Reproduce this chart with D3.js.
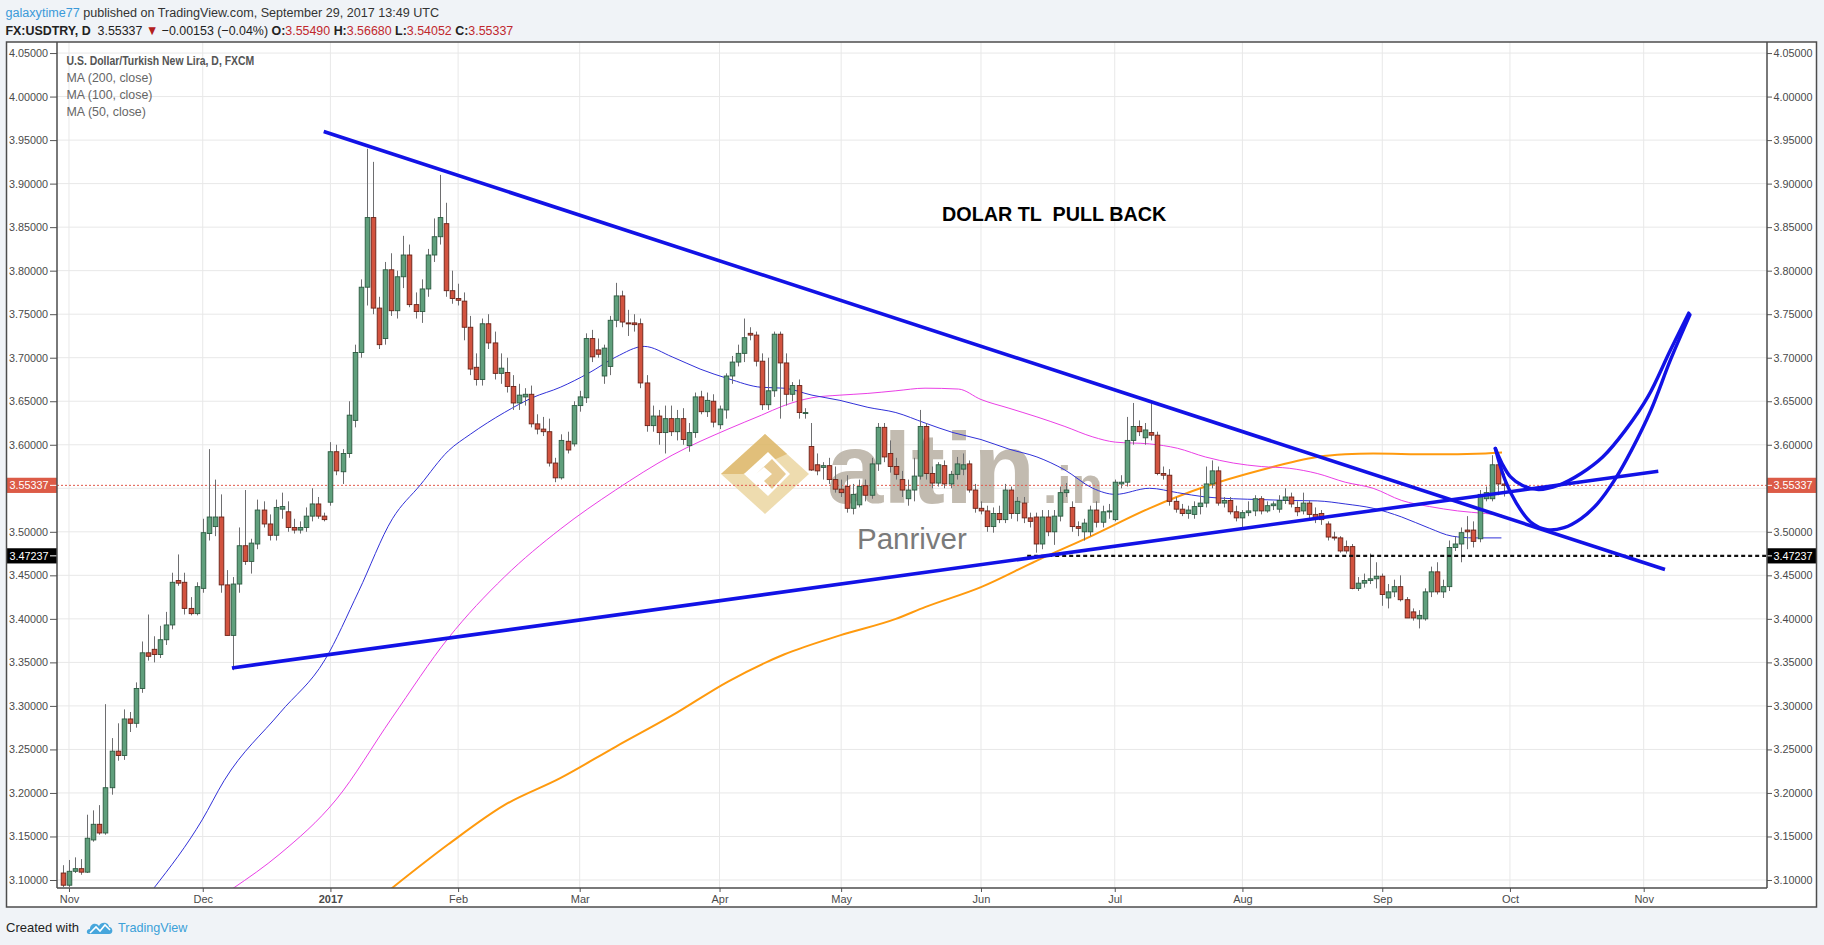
<!DOCTYPE html>
<html><head><meta charset="utf-8">
<script src="https://cdn.jsdelivr.net/npm/d3@7/dist/d3.min.js"></script>
<style>
body{margin:0;background:#f0f3f7;}
svg{display:block;}
text{font-family:"Liberation Sans",Arial,sans-serif;}
</style>
</head><body>
<svg id="c" width="1824" height="945"></svg>
<script>
// ---------------- DATA ----------------
const firstBar = -1; // first candle = Oct 31 2016
const candles = [ // [open, high, low, close]
[3.108,3.117,3.092,3.094],[3.094,3.123,3.092,3.110],[3.110,3.126,3.108,3.113],[3.113,3.124,3.106,3.109],
[3.109,3.175,3.108,3.148],[3.146,3.180,3.144,3.164],[3.164,3.186,3.152,3.154],[3.154,3.302,3.152,3.206],
[3.206,3.263,3.198,3.248],[3.248,3.280,3.237,3.243],[3.243,3.296,3.238,3.285],[3.285,3.293,3.270,3.280],
[3.280,3.327,3.275,3.320],[3.320,3.374,3.315,3.361],[3.361,3.405,3.352,3.357],[3.365,3.380,3.350,3.359],
[3.359,3.392,3.355,3.376],[3.376,3.408,3.370,3.393],[3.393,3.453,3.388,3.442],[3.444,3.474,3.438,3.441],
[3.442,3.453,3.405,3.412],[3.412,3.425,3.404,3.406],[3.406,3.442,3.404,3.437],[3.435,3.515,3.430,3.499],
[3.498,3.595,3.490,3.517],[3.506,3.560,3.495,3.517],[3.517,3.543,3.430,3.439],[3.439,3.456,3.381,3.381],
[3.381,3.448,3.341,3.440],[3.440,3.505,3.430,3.484],[3.484,3.548,3.462,3.466],[3.466,3.492,3.452,3.487],
[3.486,3.537,3.480,3.525],[3.525,3.535,3.505,3.509],[3.509,3.520,3.490,3.496],[3.496,3.537,3.490,3.528],
[3.526,3.545,3.515,3.529],[3.523,3.535,3.500,3.505],[3.505,3.515,3.498,3.502],[3.502,3.512,3.498,3.505],
[3.505,3.528,3.500,3.518],[3.518,3.550,3.512,3.532],[3.532,3.540,3.515,3.518],[3.518,3.522,3.512,3.514],
[3.534,3.603,3.530,3.592],[3.592,3.600,3.565,3.570],[3.569,3.595,3.555,3.590],[3.590,3.650,3.585,3.634],
[3.628,3.715,3.620,3.706],[3.706,3.790,3.700,3.781],[3.781,3.940,3.760,3.861],[3.861,3.925,3.750,3.757],
[3.757,3.770,3.710,3.715],[3.722,3.810,3.715,3.801],[3.801,3.820,3.748,3.754],[3.754,3.800,3.745,3.793],
[3.793,3.840,3.780,3.818],[3.818,3.830,3.758,3.761],[3.761,3.775,3.745,3.753],[3.753,3.790,3.740,3.779],
[3.779,3.825,3.770,3.818],[3.818,3.860,3.810,3.839],[3.839,3.910,3.830,3.861],[3.854,3.878,3.770,3.777],
[3.777,3.800,3.762,3.768],[3.768,3.785,3.760,3.766],[3.765,3.775,3.720,3.735],[3.735,3.748,3.680,3.687],
[3.689,3.705,3.668,3.675],[3.675,3.745,3.668,3.739],[3.739,3.750,3.710,3.717],[3.717,3.730,3.675,3.682],
[3.682,3.705,3.670,3.688],[3.683,3.700,3.660,3.667],[3.667,3.680,3.640,3.648],[3.648,3.670,3.640,3.657],
[3.655,3.665,3.645,3.658],[3.658,3.668,3.620,3.624],[3.624,3.635,3.612,3.618],[3.618,3.632,3.610,3.615],
[3.615,3.630,3.575,3.579],[3.579,3.585,3.557,3.562],[3.562,3.612,3.560,3.605],[3.604,3.615,3.590,3.594],
[3.601,3.650,3.598,3.645],[3.645,3.662,3.638,3.655],[3.654,3.728,3.648,3.722],[3.722,3.732,3.695,3.701],
[3.709,3.722,3.700,3.704],[3.679,3.715,3.670,3.711],[3.690,3.748,3.680,3.743],[3.743,3.786,3.735,3.771],
[3.771,3.777,3.735,3.741],[3.740,3.755,3.725,3.739],[3.740,3.750,3.730,3.738],[3.739,3.745,3.665,3.671],
[3.671,3.680,3.615,3.622],[3.622,3.645,3.615,3.633],[3.633,3.640,3.600,3.614],[3.614,3.645,3.590,3.630],
[3.630,3.645,3.610,3.615],[3.615,3.640,3.605,3.630],[3.630,3.642,3.600,3.606],[3.599,3.625,3.592,3.614],
[3.614,3.660,3.608,3.655],[3.655,3.662,3.635,3.638],[3.638,3.660,3.632,3.651],[3.650,3.658,3.620,3.626],
[3.623,3.645,3.618,3.641],[3.640,3.682,3.630,3.679],[3.679,3.702,3.670,3.695],[3.695,3.715,3.690,3.705],
[3.705,3.745,3.695,3.723],[3.728,3.735,3.720,3.726],[3.726,3.730,3.690,3.696],[3.696,3.705,3.640,3.646],
[3.646,3.700,3.640,3.662],[3.662,3.730,3.655,3.727],[3.727,3.730,3.630,3.694],[3.694,3.705,3.645,3.658],
[3.658,3.672,3.650,3.668],[3.668,3.675,3.630,3.637],[3.636,3.642,3.630,3.637],[3.598,3.625,3.570,3.571],
[3.577,3.590,3.565,3.570],[3.574,3.580,3.560,3.576],[3.576,3.585,3.555,3.560],[3.560,3.575,3.545,3.549],
[3.549,3.560,3.540,3.545],[3.552,3.565,3.522,3.527],[3.527,3.555,3.520,3.543],[3.531,3.560,3.528,3.552],
[3.553,3.560,3.535,3.542],[3.542,3.585,3.538,3.578],[3.578,3.625,3.570,3.620],[3.620,3.625,3.580,3.586],
[3.590,3.605,3.568,3.575],[3.575,3.585,3.560,3.566],[3.560,3.570,3.540,3.548],[3.538,3.560,3.530,3.548],
[3.548,3.585,3.535,3.564],[3.564,3.640,3.560,3.621],[3.621,3.625,3.560,3.567],[3.567,3.575,3.550,3.556],
[3.556,3.580,3.552,3.577],[3.576,3.582,3.550,3.555],[3.555,3.570,3.550,3.566],[3.566,3.586,3.560,3.578],
[3.572,3.590,3.565,3.577],[3.578,3.582,3.545,3.548],[3.548,3.555,3.522,3.527],[3.527,3.535,3.520,3.524],
[3.524,3.530,3.500,3.506],[3.506,3.528,3.499,3.521],[3.521,3.530,3.510,3.514],[3.514,3.555,3.510,3.548],
[3.548,3.552,3.515,3.521],[3.521,3.540,3.512,3.535],[3.533,3.540,3.510,3.516],[3.516,3.522,3.505,3.512],
[3.517,3.522,3.476,3.486],[3.486,3.525,3.480,3.517],[3.517,3.525,3.495,3.500],[3.500,3.525,3.485,3.518],
[3.518,3.552,3.512,3.545],[3.545,3.556,3.540,3.548],[3.528,3.535,3.500,3.506],[3.506,3.512,3.495,3.504],
[3.500,3.515,3.490,3.510],[3.500,3.530,3.495,3.525],[3.525,3.535,3.505,3.511],[3.511,3.530,3.505,3.523],
[3.523,3.532,3.515,3.524],[3.514,3.560,3.512,3.557],[3.555,3.565,3.550,3.557],[3.557,3.632,3.552,3.605],
[3.605,3.648,3.600,3.621],[3.621,3.628,3.610,3.615],[3.608,3.625,3.600,3.617],[3.614,3.648,3.605,3.611],
[3.611,3.615,3.565,3.567],[3.567,3.575,3.560,3.565],[3.565,3.572,3.530,3.535],[3.535,3.540,3.522,3.526],
[3.526,3.532,3.518,3.521],[3.521,3.530,3.515,3.525],[3.520,3.535,3.515,3.529],[3.529,3.550,3.520,3.533],
[3.533,3.575,3.528,3.555],[3.555,3.582,3.550,3.570],[3.570,3.575,3.530,3.533],[3.533,3.540,3.528,3.536],
[3.536,3.540,3.520,3.523],[3.523,3.530,3.512,3.516],[3.516,3.525,3.505,3.522],[3.522,3.535,3.518,3.524],
[3.524,3.542,3.518,3.538],[3.538,3.541,3.520,3.524],[3.524,3.535,3.522,3.530],[3.530,3.535,3.525,3.532],
[3.526,3.542,3.522,3.536],[3.536,3.550,3.532,3.540],[3.540,3.545,3.528,3.532],[3.528,3.535,3.518,3.523],
[3.524,3.545,3.520,3.533],[3.533,3.536,3.515,3.520],[3.520,3.528,3.510,3.515],[3.521,3.525,3.508,3.514],
[3.509,3.512,3.490,3.494],[3.494,3.500,3.490,3.493],[3.493,3.495,3.476,3.478],[3.483,3.490,3.475,3.478],
[3.483,3.486,3.434,3.435],[3.435,3.448,3.432,3.441],[3.441,3.452,3.436,3.444],[3.444,3.475,3.440,3.446],
[3.446,3.465,3.435,3.449],[3.449,3.452,3.415,3.428],[3.424,3.440,3.412,3.431],[3.431,3.445,3.425,3.437],
[3.437,3.450,3.420,3.422],[3.422,3.425,3.401,3.401],[3.408,3.412,3.398,3.401],[3.400,3.410,3.389,3.404],
[3.400,3.435,3.398,3.431],[3.431,3.460,3.425,3.454],[3.454,3.465,3.428,3.431],[3.431,3.445,3.424,3.437],
[3.437,3.490,3.432,3.482],[3.482,3.495,3.478,3.486],[3.486,3.505,3.465,3.499],[3.502,3.518,3.480,3.500],
[3.502,3.512,3.482,3.489],[3.492,3.548,3.488,3.543],[3.538,3.552,3.535,3.545],[3.538,3.588,3.535,3.577],
[3.577,3.582,3.542,3.555],[3.5549,3.5668,3.54052,3.55337]
];
// moving averages: [bar, value]
const ma50 = [[14,3.091],[21.9,3.169],[25.5,3.214],[34.7,3.292],[42.1,3.353],[47.6,3.431],[53.2,3.515],[57.8,3.554],[62.4,3.593],[66,3.612],[71.6,3.637],[76.2,3.654],[80.8,3.666],[85.4,3.682],[90,3.701],[94.6,3.713],[99.2,3.701],[103.8,3.687],[108.4,3.676],[113.9,3.666],[117.6,3.665],[122.2,3.657],[126.8,3.651],[131.4,3.643],[136,3.637],[140.8,3.625],[145.4,3.614],[150,3.606],[154.6,3.595],[159.2,3.586],[163.8,3.571],[168.4,3.550],[172.1,3.543],[177.7,3.550],[182.3,3.545],[186.9,3.540],[191.5,3.538],[196.1,3.537],[200.7,3.536],[205.3,3.5355],[209.9,3.532],[214.5,3.527],[219.2,3.517],[223.8,3.504],[227.5,3.495],[231.1,3.493],[235.6,3.493]];
const ma100 = [[26.9,3.090],[34.7,3.130],[43.9,3.192],[53.1,3.286],[62.4,3.378],[71.6,3.448],[80.8,3.503],[89.9,3.548],[99.2,3.588],[108.4,3.618],[113.9,3.634],[117.6,3.645],[122.2,3.654],[126.8,3.657],[131.4,3.659],[136,3.662],[140.8,3.665],[146.3,3.664],[150,3.652],[154.6,3.642],[159.2,3.632],[163.8,3.621],[168.4,3.609],[172.1,3.603],[177.7,3.601],[182.3,3.596],[186.9,3.586],[191.5,3.579],[196.1,3.575],[200.7,3.573],[205.3,3.567],[209.9,3.557],[214.5,3.550],[219.2,3.536],[223.8,3.529],[228.4,3.524],[233,3.521],[235.7,3.519]];
const ma200 = [[53,3.090],[62.4,3.141],[71.6,3.186],[80.8,3.217],[89.9,3.253],[99.2,3.289],[108.4,3.328],[117.6,3.359],[126.8,3.381],[136,3.400],[140.8,3.4135],[150,3.4365],[159.2,3.467],[168.4,3.496],[177.7,3.527],[186.9,3.552],[196.1,3.571],[205.3,3.586],[209.9,3.589],[214.5,3.590],[223.8,3.589],[233,3.590],[235.7,3.591]];
// drawings
const trendDown = [[41.9,3.9598],[262.5,3.4566]];
const trendUp = [[26.8,3.3436],[261.4,3.5696]];
const curveShallow = [[234.6,3.5957],[235.7,3.5785],[237.1,3.5631],[239.0,3.5535],[241.7,3.5485],[245.0,3.5535],[248.7,3.5670],[252.3,3.5862],[256.0,3.6168],[259.7,3.6552],[263.4,3.7089],[266.4,3.7512]];
const curveDeep = [[234.6,3.5957],[236.2,3.5593],[238.1,3.5324],[240.4,3.5113],[243.1,3.5025],[245.9,3.5048],[248.7,3.5152],[251.4,3.5324],[254.2,3.5593],[257.0,3.5938],[260.2,3.6399],[263.4,3.6974],[266.6,3.7492]];
const lastPrice = 3.55337;
const levelPrice = 3.47237;
const levelStartBar = 157.6;
// axes
const monthStarts = [0,22,43,64,84,107,127,150,172,193,216,237,259];
const monthLabels = ["Nov","Dec","2017","Feb","Mar","Apr","May","Jun","Jul","Aug","Sep","Oct","Nov"];
const priceTicks = [3.10,3.15,3.20,3.25,3.30,3.35,3.40,3.45,3.50,3.55,3.60,3.65,3.70,3.75,3.80,3.85,3.90,3.95,4.00,4.05];
const headerAuthor = "galaxytime77";
const headerRest = " published on TradingView.com, September 29, 2017 13:49 UTC";
const legendTitle = "U.S. Dollar/Turkish New Lira, D, FXCM";
const legendItems = ["MA (200, close)","MA (100, close)","MA (50, close)"];
const annotation = "DOLAR TL  PULL BACK";

// ---------------- LAYOUT ----------------
const L = 57, R = 1767, T = 42, B = 888;
const svg = d3.select("#c");
const x = d3.scaleLinear().domain([-1.97, 279.28]).range([L, R]);
const y = d3.scaleLinear().domain([3.0908, 4.0627]).range([B, T]);

svg.append("rect").attr("width",1824).attr("height",945).attr("fill","#f0f3f7");
svg.append("rect").attr("x",6).attr("y",42).attr("width",1811).attr("height",865).attr("fill","#fff");

function fit(sel, target){
  const w = sel.node().getBBox().width;
  return w>0 ? target/w : 1;
}
function fitText(g, target){ // g is a group with text at origin
  const k = fit(g, target);
  const t = g.attr("data-t");
  g.attr("transform", t + ` scale(${k},1)`);
}

// header
{
  const g = svg.append("g").attr("data-t","translate(5.5,17)").attr("transform","translate(5.5,17)");
  const t = g.append("text").attr("font-size",13.5).attr("fill","#333");
  t.append("tspan").attr("fill","#3b9ad9").text(headerAuthor);
  t.append("tspan").text(headerRest);
  fitText(g, 434);
  const g2 = svg.append("g").attr("data-t","translate(5.5,34.5)").attr("transform","translate(5.5,34.5)");
  const t2 = g2.append("text").attr("font-size",13.5).attr("fill","#222");
  const parts = [["FX:USDTRY, D","b","#222"],["  3.55337 ","n","#222"],["\u25BC","n","#b3201c"],[" \u22120.00153 (\u22120.04%) ","n","#222"],
    ["O:","b","#222"],["3.55490","n","#c0282d"],[" H:","b","#222"],["3.56680","n","#c0282d"],[" L:","b","#222"],["3.54052","n","#c0282d"],[" C:","b","#222"],["3.55337","n","#c0282d"]];
  parts.forEach(p=>t2.append("tspan").attr("font-weight",p[1]==="b"?"bold":"normal").attr("fill",p[2]).style("white-space","pre").text(p[0]));
  t2.style("white-space","pre");
  fitText(g2, 508);
}

// grid
const grid = svg.append("g");
grid.selectAll(".hg").data(priceTicks).join("line").attr("x1",L).attr("x2",R)
  .attr("y1",d=>y(d)).attr("y2",d=>y(d)).attr("stroke","#e8e8e8").attr("stroke-width",1);
grid.selectAll(".vg").data(monthStarts).join("line").attr("y1",T).attr("y2",B)
  .attr("x1",d=>x(d)).attr("x2",d=>x(d)).attr("stroke","#e8e8e8").attr("stroke-width",1);

svg.append("clipPath").attr("id","plot").append("rect").attr("x",L).attr("y",T).attr("width",R-L).attr("height",B-T);
const plot = svg.append("g").attr("clip-path","url(#plot)");

// watermark
{
  const w = plot.append("g").attr("opacity",0.85);
  w.append("polygon").attr("points","721,474 765,434 809,474 765,514").attr("fill","#ecd6a2");
  w.append("polygon").attr("points","721,474 765,434 787,454 743,474").attr("fill","#dcb563");
  w.append("polygon").attr("points","744,474 768,452 790,474 768,496").attr("fill","#fff");
  w.append("polygon").attr("points","756,474 772,459 786,474 772,489 764,481 772,474 764,467").attr("fill","#e3c383");
  const a = w.append("g").attr("data-t","translate(827,503)").attr("transform","translate(827,503)");
  a.append("text").attr("font-size",100).attr("font-weight","bold").attr("fill","#b8b0a3").text("altin");
  fitText(a, 208);
  const b = w.append("g").attr("data-t","translate(1043,503)").attr("transform","translate(1043,503)");
  b.append("text").attr("font-size",52).attr("font-weight","bold").attr("fill","#b8b0a3").text(".in");
  fitText(b, 60);
  plot.append("text").attr("x",857).attr("y",549).attr("font-size",29.5).attr("fill","#7a7a7a").text("Panriver");
}

// last price dotted line
plot.append("line").attr("x1",L).attr("x2",R).attr("y1",y(lastPrice)).attr("y2",y(lastPrice))
  .attr("stroke","#e0584a").attr("stroke-width",1).attr("stroke-dasharray","2,2");

// moving averages
const line = d3.line().x(d=>x(d[0])).y(d=>y(d[1])).curve(d3.curveMonotoneX);
plot.append("path").datum(ma200).attr("d",line).attr("fill","none").attr("stroke","#ff9a0e").attr("stroke-width",2);
plot.append("path").datum(ma100).attr("d",line).attr("fill","none").attr("stroke","#ea3fe6").attr("stroke-width",1);
plot.append("path").datum(ma50).attr("d",line).attr("fill","none").attr("stroke","#3131d8").attr("stroke-width",1);

// candles
const cg = plot.append("g");
const bw = 4.6;
candles.forEach((c,i)=>{
  const bar = firstBar + i;
  const [o,h,l,cl] = c;
  const up = cl >= o;
  const cx = Math.round(x(bar)) + 0.5;
  cg.append("line").attr("x1",cx).attr("x2",cx).attr("y1",y(h)).attr("y2",y(l)).attr("stroke","#6e6e70").attr("stroke-width",1);
  const top = y(Math.max(o,cl)), bot = y(Math.min(o,cl));
  cg.append("rect").attr("x",cx-bw/2).attr("y",top).attr("width",bw).attr("height",Math.max(1,bot-top))
    .attr("fill", up ? "#5f9f7c" : "#d2533f").attr("stroke", up ? "#2b5a40" : "#6a2217").attr("stroke-width",0.9);
});

// drawings
const dl = d3.line().x(d=>x(d[0])).y(d=>y(d[1]));
plot.append("line").attr("x1",x(levelStartBar)).attr("x2",R).attr("y1",y(levelPrice)).attr("y2",y(levelPrice))
  .attr("stroke","#111").attr("stroke-width",2.2).attr("stroke-dasharray","4,3");
const blue = "#1212e6";
plot.append("path").datum(trendDown).attr("d",dl).attr("stroke",blue).attr("stroke-width",3.6).attr("fill","none");
plot.append("path").datum(trendUp).attr("d",dl).attr("stroke",blue).attr("stroke-width",3.6).attr("fill","none");
const cl2 = d3.line().x(d=>x(d[0])).y(d=>y(d[1])).curve(d3.curveCatmullRom);
plot.append("path").datum(curveShallow).attr("d",cl2).attr("stroke",blue).attr("stroke-width",3.4).attr("fill","none").attr("stroke-linecap","round");
plot.append("path").datum(curveDeep).attr("d",cl2).attr("stroke",blue).attr("stroke-width",3.4).attr("fill","none").attr("stroke-linecap","round");

// annotation text
{
  const g = svg.append("g").attr("data-t","translate(942,221)").attr("transform","translate(942,221)");
  g.append("text").attr("font-size",20).attr("font-weight","bold").attr("fill","#000").style("white-space","pre").text(annotation);
  fitText(g, 225);
}

// legend
{
  const g = svg.append("g").attr("data-t","translate(66.5,65)").attr("transform","translate(66.5,65)");
  g.append("text").attr("font-size",13).attr("font-weight","bold").attr("fill","#555").text(legendTitle);
  fitText(g, 188);
  const widths = [86, 86, 79.5];
  legendItems.forEach((s,i)=>{
    const gi = svg.append("g").attr("data-t",`translate(66.5,${82+i*17.2})`).attr("transform",`translate(66.5,${82+i*17.2})`);
    gi.append("text").attr("font-size",12.5).attr("fill","#666").text(s);
    fitText(gi, widths[i]);
  });
}

// axes
const fmt = d3.format(".5f");
function styleAxis(g){
  g.select(".domain").remove();
  g.selectAll(".tick line").attr("stroke","#555");
  g.selectAll(".tick text").attr("fill","#4a4a4a").attr("font-size",10.8).attr("font-family","Liberation Sans, Arial, sans-serif");
}
svg.append("g").attr("transform",`translate(${L},0)`).call(d3.axisLeft(y).tickValues(priceTicks).tickFormat(fmt).tickSize(7).tickPadding(2)).call(styleAxis);
svg.append("g").attr("transform",`translate(${R},0)`).call(d3.axisRight(y).tickValues(priceTicks).tickFormat(fmt).tickSize(5).tickPadding(1.5)).call(styleAxis);
const xa = svg.append("g").attr("transform",`translate(0,${B})`).call(d3.axisBottom(x).tickValues(monthStarts).tickFormat((d,i)=>monthLabels[i]).tickSize(4).tickPadding(3)).call(styleAxis);
xa.selectAll(".tick text").attr("font-weight",(d,i)=>monthLabels[i]==="2017"?"bold":"normal").attr("font-size",11);

// price labels
function priceLabel(v, bg){
  const yy = y(v);
  svg.append("rect").attr("x",7).attr("y",yy-7.6).attr("width",50).attr("height",15.2).attr("fill",bg);
  svg.append("text").attr("x",48.5).attr("y",yy).attr("dy","0.36em").attr("text-anchor","end").attr("font-size",10.8).attr("fill","#fff").text(fmt(v));
  svg.append("line").attr("x1",50).attr("x2",57).attr("y1",yy).attr("y2",yy).attr("stroke","#fff");
  svg.append("rect").attr("x",R).attr("y",yy-7.6).attr("width",50).attr("height",15.2).attr("fill",bg);
  svg.append("text").attr("x",R+6.5).attr("y",yy).attr("dy","0.36em").attr("font-size",10.8).attr("fill","#fff").text(fmt(v));
  svg.append("line").attr("x1",R).attr("x2",R+5).attr("y1",yy).attr("y2",yy).attr("stroke","#fff");
}
priceLabel(lastPrice, "#dc5b47");
priceLabel(levelPrice, "#000");

// frame
const fr = svg.append("g").attr("stroke","#4d4d4d").attr("stroke-width",1.5).attr("fill","none");
fr.append("rect").attr("x",6.5).attr("y",42).attr("width",1810).attr("height",865);
fr.append("line").attr("x1",L).attr("x2",L).attr("y1",42).attr("y2",B);
fr.append("line").attr("x1",R).attr("x2",R).attr("y1",42).attr("y2",B);
fr.append("line").attr("x1",L).attr("x2",R).attr("y1",B).attr("y2",B);

// footer
{
  const g = svg.append("g").attr("data-t","translate(6,932)").attr("transform","translate(6,932)");
  g.append("text").attr("font-size",13).attr("fill","#222").text("Created with");
  fitText(g, 73);
  const lg = svg.append("g").attr("transform","translate(87,921)");
  lg.append("path").attr("d","M2,13 C-1,13 -1,8 3,8 C3,3 9,1 12,5 C14,0 22,1 22,6 C26,6 27,13 22,13 Z").attr("fill","#47a6dc");
  lg.append("path").attr("d","M3,12 L9,6 L13,10 L18,4 L23,9").attr("stroke","#fff").attr("stroke-width",1.6).attr("fill","none");
  const g2 = svg.append("g").attr("data-t","translate(118,932)").attr("transform","translate(118,932)");
  g2.append("text").attr("font-size",13).attr("fill","#3ba0d8").text("TradingView");
  fitText(g2, 70);
}
</script>
</body></html>
